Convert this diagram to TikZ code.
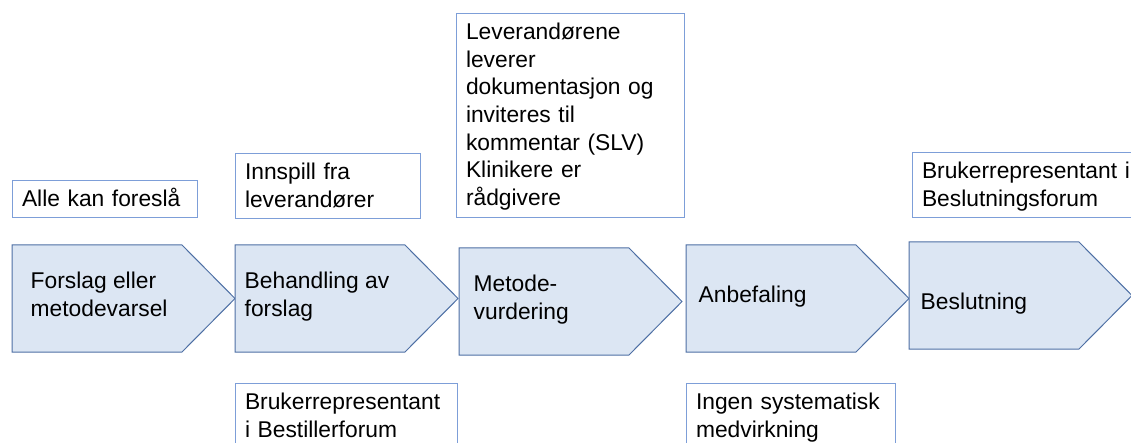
\documentclass[tikz,border=0pt]{standalone}
\usepackage{fontspec}
\newfontfamily\arialfont{Liberation Sans}
\newcommand\stagefont{\arialfont\fontsize{22.8pt}{27.7pt}\selectfont}
\definecolor{stagefill}{RGB}{220,230,243}
\definecolor{stageline}{RGB}{78,111,164}
\definecolor{noteline}{RGB}{125,158,216}
\tikzset{%
  stage/.style = {draw=stageline, fill=stagefill, line width=1pt, line join=miter},
  steptext/.style = {anchor=north west, align=left, inner sep=0pt, font=\stagefont,
                     execute at begin node=\rule{0pt}{21pt}},
  note/.style = {rectangle, draw=noteline, line width=1pt, fill=white,
                 anchor=north west, align=left, inner xsep=9.5pt, inner ysep=5pt,
                 font=\stagefont,
                 execute at begin node=\rule{0pt}{21pt},
                 execute at end node=\rule[-6.5pt]{0pt}{6.5pt}},
}
\begin{document}
\begin{tikzpicture}[x=1pt, y=-1pt]
  \useasboundingbox (0,0) rectangle (1131,443);
  \clip (0,0) rectangle (1131,443);

  % process arrows
  \foreach \x/\y in {12/245, 235/245, 459/248, 686/245, 909/242}
    \draw[stage] (\x,\y) -- ++(170,0) -- ++(53,53.5) -- ++(-53,53.5) -- ++(-170,0) -- cycle;

  \node (onForslag)    [steptext] at (30.5,272)  {Forslag eller\\metodevarsel};
  \node (onBehandling) [steptext] at (244.5,272) {Behandling av\\forslag};
  \node (onMetode)     [steptext] at (473.5,275) {Metode-\\vurdering};
  \node (onAnbefaling) [steptext] at (698.5,281) {Anbefaling};
  \node (onBeslutning) [steptext] at (920.5,288) {Beslutning};

  % notes above and below
  \node (onAlle)       [note, text width=166] at (12,180)  {Alle kan foreslå};
  \node (onInnspill)   [note, text width=166] at (235,153) {Innspill fra\\leverandører};
  \node (onLeverandor) [note, text width=209] at (456,13)  {Leverandørene\\leverer\\dokumentasjon og\\inviteres til\\kommentar (SLV)\\Klinikere er\\rådgivere};
  \node (onBeslForum)  [note, text width=222] at (912,152) {Brukerrepresentant i\\Beslutningsforum};
  \node (onBestiller)  [note, text width=203] at (235,383) {Brukerrepresentant\\i Bestillerforum};
  \node (onIngen)      [note, text width=190] at (686,383) {Ingen systematisk\\medvirkning};
\end{tikzpicture}
\end{document}
